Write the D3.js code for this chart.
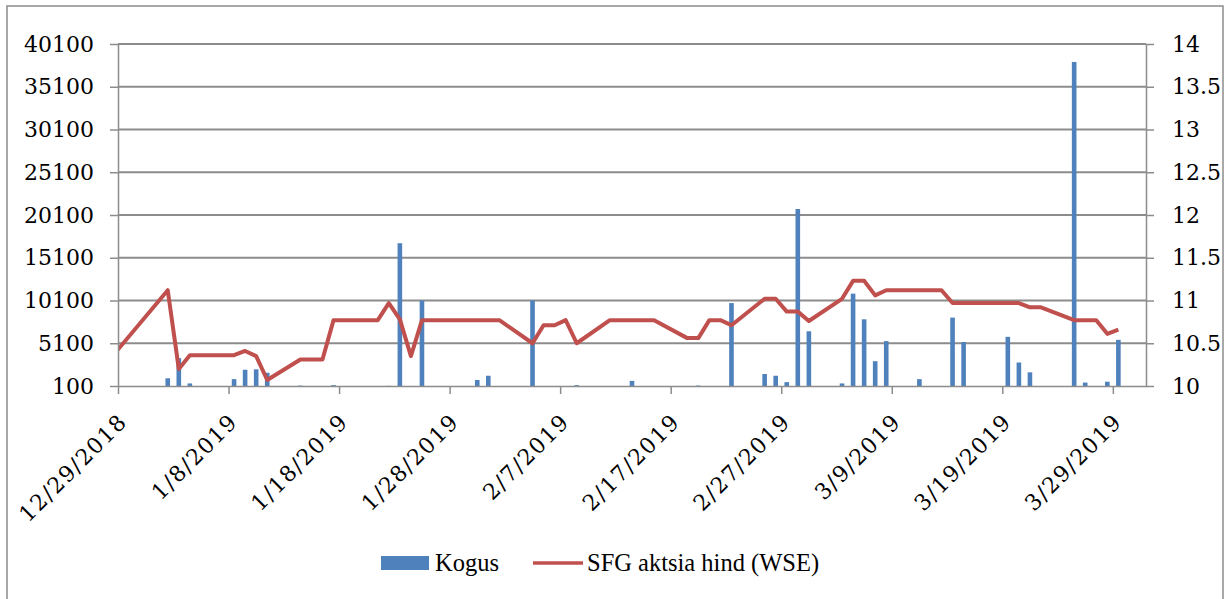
<!DOCTYPE html>
<html>
  <head>
    <meta charset="utf-8">
    <title>SFG kogus ja aktsia hind</title>
    <script src="https://cdn.jsdelivr.net/npm/d3@7"></script>
    <style>
      body { margin: 0; background: #fff; }
      .axis text { font-family: "DejaVu Serif", serif; font-size: 22px; fill: #000; }
      .axis path, .axis line { stroke: #8c8c8c; stroke-width: 1.5; }
      .grid line { stroke: #8c8c8c; stroke-width: 2; }
      .legend text { font-family: "Liberation Serif", "Times New Roman", serif; font-size: 24.5px; fill: #000; }
    </style>
  </head>
  <body>
    <svg id="chart" width="1229" height="599"></svg>

    <script>
      // data
      barDates = ["2019-01-02", "2019-01-03", "2019-01-04", "2019-01-08", "2019-01-09", "2019-01-10", "2019-01-11",
        "2019-01-14", "2019-01-17", "2019-01-22", "2019-01-23", "2019-01-25", "2019-01-30", "2019-01-31",
        "2019-02-04", "2019-02-08", "2019-02-13", "2019-02-19", "2019-02-22", "2019-02-25", "2019-02-26",
        "2019-02-27", "2019-02-28", "2019-03-01", "2019-03-04", "2019-03-05", "2019-03-06", "2019-03-07",
        "2019-03-08", "2019-03-11", "2019-03-14", "2019-03-15", "2019-03-19", "2019-03-20", "2019-03-21",
        "2019-03-25", "2019-03-26", "2019-03-28", "2019-03-29"];
      barValues = [1000, 3350, 400, 900, 2000, 2050, 1650,
        150, 200, 120, 16800, 10100, 800, 1300,
        10100, 200, 700, 150, 9800, 1500, 1300,
        550, 20800, 6500, 400, 10900, 7900, 3000,
        5350, 900, 8100, 5250, 5850, 2850, 1700,
        38000, 500, 600, 5500];

      priceDates = ["2018-12-28", "2019-01-02", "2019-01-03", "2019-01-04", "2019-01-07", "2019-01-08", "2019-01-09",
        "2019-01-10", "2019-01-11", "2019-01-14", "2019-01-15", "2019-01-16", "2019-01-17", "2019-01-18",
        "2019-01-21", "2019-01-22", "2019-01-23", "2019-01-24", "2019-01-25", "2019-01-28", "2019-01-29",
        "2019-01-30", "2019-01-31", "2019-02-01", "2019-02-04", "2019-02-05", "2019-02-06", "2019-02-07",
        "2019-02-08", "2019-02-11", "2019-02-12", "2019-02-13", "2019-02-14", "2019-02-15", "2019-02-18",
        "2019-02-19", "2019-02-20", "2019-02-21", "2019-02-22", "2019-02-25", "2019-02-26", "2019-02-27",
        "2019-02-28", "2019-03-01", "2019-03-04", "2019-03-05", "2019-03-06", "2019-03-07", "2019-03-08",
        "2019-03-11", "2019-03-12", "2019-03-13", "2019-03-14", "2019-03-15", "2019-03-18", "2019-03-19",
        "2019-03-20", "2019-03-21", "2019-03-22", "2019-03-25", "2019-03-26", "2019-03-27", "2019-03-28",
        "2019-03-29"];
      priceValues = [10.35, 11.12, 10.2, 10.36, 10.36, 10.36, 10.41,
        10.35, 10.07, 10.31, 10.31, 10.31, 10.77, 10.77,
        10.77, 10.97, 10.78, 10.35, 10.77, 10.77, 10.77,
        10.77, 10.77, 10.77, 10.5, 10.71, 10.71, 10.77,
        10.5, 10.77, 10.77, 10.77, 10.77, 10.77, 10.56,
        10.56, 10.77, 10.77, 10.71, 11.02, 11.02, 10.87,
        10.87, 10.76, 11.02, 11.23, 11.23, 11.06, 11.12,
        11.12, 11.12, 11.12, 10.97, 10.97, 10.97, 10.97,
        10.97, 10.92, 10.92, 10.77, 10.77, 10.77, 10.61,
        10.66];

      leftTicks = [100, 5100, 10100, 15100, 20100, 25100, 30100, 35100, 40100];
      rightTicks = [10, 10.5, 11, 11.5, 12, 12.5, 13, 13.5, 14];
      dateTicks = ["2018-12-29", "2019-01-08", "2019-01-18", "2019-01-28", "2019-02-07", "2019-02-17",
        "2019-02-27", "2019-03-09", "2019-03-19", "2019-03-29"];

      seriesNames = ["Kogus", "SFG aktsia hind (WSE)"];
      barColor = "#4f81bd";
      lineColor = "#c0504d";

      parse = d3.timeParse("%Y-%m-%d");
      fmt = d3.timeFormat("%-m/%-d/%Y");
      mid = function(s) { return d3.timeHour.offset(parse(s), 12); };

      svg = d3.select("#chart");
      plot = { left: 118, right: 1146, top: 44, bottom: 386 };

      // outer frame
      svg.append("rect")
        .attr("x", 7).attr("y", 6)
        .attr("width", 1216).attr("height", 620)
        .attr("fill", "none").attr("stroke", "#8c8c8c").attr("stroke-width", 1.5);

      x = d3.scaleTime()
        .domain([parse("2018-12-29"), parse("2019-04-01")])
        .range([plot.left, plot.right]);
      yLeft = d3.scaleLinear()
        .domain([100, 40100])
        .range([plot.bottom, plot.top]);
      yRight = d3.scaleLinear()
        .domain([10, 14])
        .range([plot.bottom, plot.top]);

      // gridlines
      svg.append("g")
        .attr("class", "grid")
        .selectAll("line")
          .data(leftTicks.slice(1))
        .enter().append("line")
          .attr("x1", plot.left).attr("x2", plot.right)
          .attr("y1", function(d) { return yLeft(d); })
          .attr("y2", function(d) { return yLeft(d); });

      // bars
      barData = barDates.map(function(d, i) { return { date: mid(d), value: barValues[i] }; });
      svg.append("g")
        .selectAll("rect")
          .data(barData)
        .enter().append("rect")
          .attr("x", function(d) { return x(d.date) - 2.3; })
          .attr("width", 4.6)
          .attr("y", function(d) { return yLeft(d.value); })
          .attr("height", function(d) { return yLeft(100) - yLeft(d.value); })
          .attr("fill", barColor);

      // price line
      svg.append("clipPath").attr("id", "plotClip")
        .append("rect")
          .attr("x", plot.left).attr("y", 0)
          .attr("width", plot.right - plot.left).attr("height", 599);

      priceData = priceDates.map(function(d, i) { return { date: mid(d), value: priceValues[i] }; });
      line = d3.line()
        .x(function(d) { return x(d.date); })
        .y(function(d) { return yRight(d.value); });
      svg.append("path")
        .datum(priceData)
        .attr("clip-path", "url(#plotClip)")
        .attr("d", line)
        .attr("fill", "none")
        .attr("stroke", lineColor)
        .attr("stroke-width", 4)
        .attr("stroke-linejoin", "round");

      // axes
      leftAxis = d3.axisLeft(yLeft)
        .tickValues(leftTicks)
        .tickFormat(d3.format("d"))
        .tickSizeInner(8).tickSizeOuter(0).tickPadding(16);
      svg.append("g")
        .attr("class", "axis")
        .attr("transform", "translate(" + plot.left + ",0)")
        .call(leftAxis);

      rightAxis = d3.axisRight(yRight)
        .tickValues(rightTicks)
        .tickFormat(function(d) { return d3.format("")(d); })
        .tickSizeInner(8).tickSizeOuter(0).tickPadding(18);
      svg.append("g")
        .attr("class", "axis")
        .attr("transform", "translate(" + plot.right + ",0)")
        .call(rightAxis);

      bottomAxis = d3.axisBottom(x)
        .tickValues(dateTicks.map(parse))
        .tickFormat(fmt)
        .tickSizeInner(8).tickSizeOuter(0);
      bottomGroup = svg.append("g")
        .attr("class", "axis")
        .attr("transform", "translate(0," + plot.bottom + ")")
        .call(bottomAxis);
      bottomGroup.selectAll(".tick text")
        .attr("text-anchor", "end")
        .attr("dy", 0)
        .attr("y", 0)
        .style("letter-spacing", "1.5px")
        .attr("transform", "translate(10,37) rotate(-45)");

      // legend
      legend = svg.append("g").attr("class", "legend");
      legend.append("rect")
        .attr("x", 381).attr("y", 556)
        .attr("width", 48).attr("height", 14)
        .attr("fill", barColor);
      legend.append("text")
        .attr("x", 435).attr("y", 571)
        .text(seriesNames[0]);
      legend.append("line")
        .attr("x1", 533).attr("x2", 583)
        .attr("y1", 563).attr("y2", 563)
        .attr("stroke", lineColor).attr("stroke-width", 3.5);
      legend.append("text")
        .attr("x", 587).attr("y", 571)
        .text(seriesNames[1]);
    </script>
  </body>
</html>
